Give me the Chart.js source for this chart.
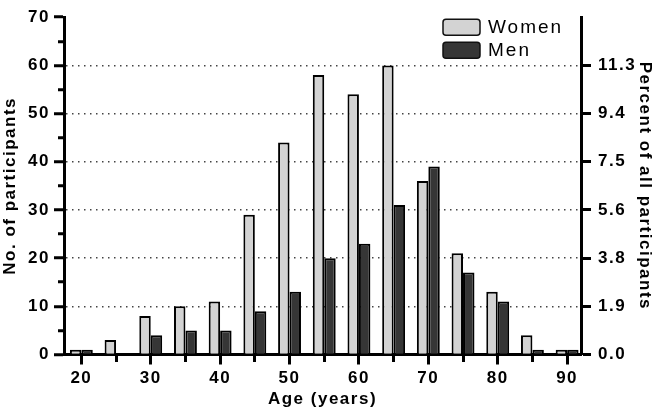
<!DOCTYPE html>
<html><head><meta charset="utf-8">
<script src="https://cdn.jsdelivr.net/npm/chart.js@4"></script>
<style>html,body{margin:0;padding:0;background:#fff}</style>
</head><body>
<canvas id="c" width="657" height="412"></canvas>
<script>
const ageGroups = [20,25,30,35,40,45,50,55,60,65,70,75,80,85,90];
const women = [1,3,8,10,11,29,44,58,54,60,36,21,13,4,1];
const men = [1,0,4,5,5,9,13,20,23,31,39,17,11,1,1];
const ageTicks = [20,25,30,35,40,45,50,55,60,65,70,75,80,85,90];
const countTicks = [0,5,10,15,20,25,30,35,40,45,50,55,60,65,70];
const percentTickValues = [0,10,20,30,40,50,60];
const percentTickLabels = ['0.0','1.9','3.8','5.6','7.5','9.4','11.3'];

const FONT = 'Arial, "Liberation Sans", Helvetica, sans-serif';
const tickFont = {family: FONT, size: 17, weight: 'bold'};
const titleFont = {family: FONT, size: 17, weight: 'bold'};

const spacing = {
  id: 'spacing',
  beforeDraw(chart) { chart.ctx.letterSpacing = '1.5px'; }
};

const boxLegend = {
  id: 'boxLegend',
  afterDraw(chart) {
    const {ctx, chartArea} = chart;
    const x0 = chartArea.right - 138, y0 = chartArea.top + 2;
    chart.data.datasets.forEach((ds, i) => {
      const y = y0 + i * 23;
      ctx.save();
      ctx.beginPath();
      ctx.roundRect(x0, y, 37, 16, 3);
      ctx.fillStyle = ds.backgroundColor;
      ctx.fill();
      ctx.lineWidth = 1.5;
      ctx.strokeStyle = '#111';
      ctx.stroke();
      ctx.fillStyle = '#000';
      ctx.font = '19px ' + FONT;
      ctx.letterSpacing = '2px';
      ctx.textBaseline = 'middle';
      ctx.textAlign = 'left';
      ctx.fillText(ds.label, x0 + 45, y + 8.5);
      ctx.restore();
    });
  }
};

const isMajor = (ctx) => ctx.tick && ctx.tick.value % 10 === 0;

new Chart(document.getElementById('c'), {
  type: 'bar',
  data: {
    labels: ageGroups,
    datasets: [
      {label: 'Women', data: women, backgroundColor: '#d3d3d3', borderColor: '#000', borderWidth: 2},
      {label: 'Men', data: men, backgroundColor: '#363636', borderColor: '#000', borderWidth: 2}
    ]
  },
  options: {
    responsive: false,
    animation: false,
    events: [],
    layout: {padding: {top: 10, left: 0, right: 0, bottom: 0}},
    plugins: {legend: {display: false}, tooltip: {enabled: false}},
    datasets: {bar: {categoryPercentage: 0.66, barPercentage: 1.0}},
    scales: {
      x: {
        type: 'linear', min: 17.5, max: 92, offset: false, z: 1,
        afterBuildTicks: s => { s.ticks = ageTicks.map(v => ({value: v})); },
        afterFit: s => { s.height = 57.5; },
        grid: {display: true, drawOnChartArea: false, offset: false, tickLength: 10, tickWidth: 3, tickColor: '#000',
               tickBorderDash: ctx => isMajor(ctx) ? [] : [6, 100]},
        border: {display: true, color: '#000', width: 3},
        ticks: {autoSkip: false, maxRotation: 0, padding: 4, color: '#000', font: tickFont,
                callback: v => (v % 10 === 0 ? String(v) : '')},
        title: {display: true, text: 'Age (years)', color: '#000', font: titleFont, padding: {top: 0, bottom: 2}}
      },
      y: {
        type: 'linear', position: 'left', min: 0, max: 70,
        afterBuildTicks: s => { s.ticks = countTicks.map(v => ({value: v})); },
        afterFit: s => { s.width = 64; },
        grid: {
          color: ctx => (isMajor(ctx) && ctx.tick.value > 0 && ctx.tick.value < 70) ? '#444' : 'transparent',
          lineWidth: 1.5, tickLength: 10, tickWidth: 3, tickColor: '#000',
          tickBorderDash: ctx => isMajor(ctx) ? [] : [0, 4, 6, 100]
        },
        border: {display: true, color: '#000', width: 3, dash: [1.5, 4.5]},
        ticks: {autoSkip: false, padding: 4, color: '#000', font: tickFont,
                callback: v => (v % 10 === 0 ? String(v) : '')},
        title: {display: true, text: 'No. of participants', color: '#000', font: titleFont, padding: {top: 0, bottom: 0}}
      },
      y2: {
        type: 'linear', position: 'right', min: 0, max: 70,
        afterBuildTicks: s => { s.ticks = percentTickValues.map(v => ({value: v})); },
        afterFit: s => { s.width = 76; },
        grid: {drawOnChartArea: false, tickLength: 10, tickWidth: 3, tickColor: '#000'},
        border: {display: true, color: '#000', width: 3},
        ticks: {autoSkip: false, padding: 7, color: '#000', font: tickFont,
                callback: v => percentTickLabels[percentTickValues.indexOf(v)]},
        title: {display: true, text: 'Percent of all participants', color: '#000', font: titleFont, padding: {top: 2, bottom: 0}}
      }
    }
  },
  plugins: [spacing, boxLegend]
});
</script>
</body></html>
